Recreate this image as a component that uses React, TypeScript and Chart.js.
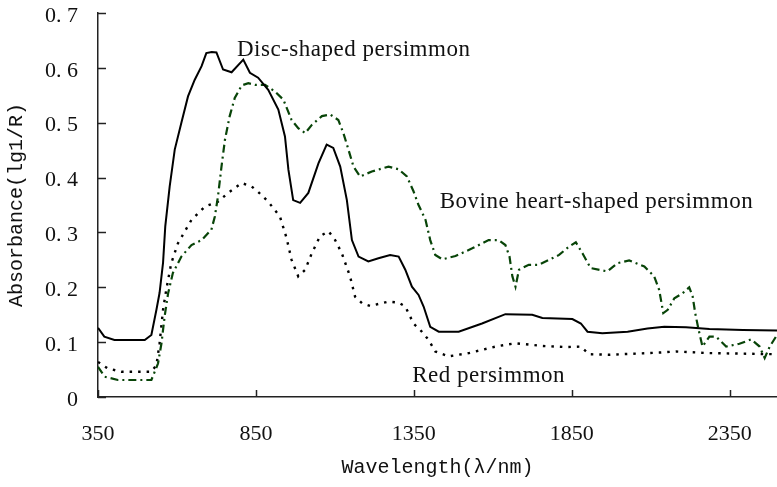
import React, { useEffect, useRef } from 'react';
import { Chart, registerables } from 'chart.js';

Chart.register(...registerables);

const W = 777;
const H = 487;

const xTickValues = [350, 850, 1350, 1850, 2350];
const yTickValues = [0, 0.1, 0.2, 0.3, 0.4, 0.5, 0.6, 0.7];

const seriesNames = ['Disc-shaped persimmon', 'Bovine heart-shaped persimmon', 'Red persimmon'];
const labelAnchorNm = [790, 1432, 1345];
const labelAnchorAbs = [0.621, 0.344, 0.027];

const discNm = [350, 370, 402, 450, 498, 519, 535, 545, 556, 563, 577, 593, 614, 635, 656, 678, 693, 710, 725, 746, 773, 810, 831, 857, 889, 921, 942, 953, 968, 990, 1016, 1048, 1074, 1095, 1117, 1138, 1154, 1175, 1206, 1238, 1275, 1302, 1323, 1344, 1365, 1381, 1402, 1429, 1492, 1566, 1640, 1725, 1757, 1852, 1879, 1900, 1947, 2027, 2090, 2143, 2212, 2286, 2392, 2500];
const discAbs = [0.126, 0.110, 0.104, 0.104, 0.104, 0.113, 0.159, 0.19, 0.245, 0.311, 0.384, 0.451, 0.5, 0.548, 0.578, 0.603, 0.627, 0.629, 0.628, 0.597, 0.592, 0.615, 0.591, 0.582, 0.56, 0.524, 0.475, 0.414, 0.359, 0.354, 0.372, 0.426, 0.46, 0.454, 0.42, 0.359, 0.286, 0.256, 0.247, 0.253, 0.259, 0.256, 0.232, 0.201, 0.186, 0.165, 0.128, 0.119, 0.119, 0.134, 0.151, 0.15, 0.144, 0.142, 0.134, 0.119, 0.116, 0.119, 0.125, 0.128, 0.127, 0.124, 0.122, 0.121];

const bovineNm = [350, 371, 413, 519, 540, 551, 561, 572, 587, 614, 646, 678, 709, 720, 730, 741, 752, 767, 783, 805, 826, 847, 879, 910, 937, 963, 984, 1006, 1027, 1059, 1085, 1111, 1127, 1143, 1159, 1180, 1217, 1270, 1302, 1328, 1349, 1365, 1387, 1402, 1418, 1440, 1482, 1535, 1587, 1619, 1640, 1653, 1662, 1672, 1683, 1714, 1746, 1778, 1810, 1841, 1863, 1884, 1910, 1963, 1995, 2032, 2080, 2111, 2127, 2140, 2154, 2175, 2201, 2222, 2233, 2241, 2252, 2264, 2286, 2307, 2339, 2381, 2418, 2445, 2461, 2477, 2500];
const bovineAbs = [0.055, 0.037, 0.031, 0.031, 0.061, 0.098, 0.147, 0.189, 0.226, 0.256, 0.277, 0.286, 0.305, 0.329, 0.366, 0.42, 0.469, 0.512, 0.545, 0.568, 0.572, 0.569, 0.569, 0.557, 0.542, 0.505, 0.49, 0.481, 0.496, 0.512, 0.515, 0.505, 0.481, 0.451, 0.42, 0.402, 0.411, 0.42, 0.415, 0.402, 0.375, 0.35, 0.323, 0.286, 0.259, 0.251, 0.257, 0.271, 0.286, 0.286, 0.277, 0.256, 0.22, 0.201, 0.232, 0.241, 0.241, 0.25, 0.259, 0.274, 0.282, 0.262, 0.235, 0.229, 0.244, 0.249, 0.238, 0.22, 0.195, 0.153, 0.159, 0.18, 0.189, 0.2, 0.183, 0.153, 0.122, 0.092, 0.11, 0.11, 0.092, 0.097, 0.105, 0.092, 0.071, 0.092, 0.113];

const redNm = [350, 381, 424, 519, 535, 545, 556, 566, 582, 603, 646, 688, 730, 762, 805, 836, 857, 889, 926, 947, 963, 984, 1006, 1027, 1053, 1080, 1101, 1122, 1148, 1164, 1186, 1212, 1270, 1302, 1323, 1349, 1371, 1397, 1418, 1460, 1524, 1609, 1672, 1757, 1831, 1879, 1905, 1968, 2127, 2180, 2286, 2500];
const redAbs = [0.064, 0.052, 0.046, 0.046, 0.058, 0.098, 0.159, 0.195, 0.244, 0.28, 0.323, 0.347, 0.356, 0.372, 0.39, 0.384, 0.374, 0.356, 0.329, 0.29, 0.25, 0.22, 0.232, 0.262, 0.293, 0.302, 0.286, 0.262, 0.22, 0.183, 0.171, 0.166, 0.174, 0.172, 0.165, 0.134, 0.122, 0.104, 0.083, 0.074, 0.08, 0.092, 0.098, 0.093, 0.091, 0.092, 0.078, 0.077, 0.081, 0.083, 0.08, 0.078];

const toPoints = (xs: number[], ys: number[]) => xs.map((x, i) => ({ x, y: ys[i] }));

const AXIS_COLOR = '#222';
const TEXT_COLOR = '#111';
const GREEN = 'rgb(8,68,8)';

const decorPlugin = {
  id: 'decor',
  afterDraw(chart: any) {
    const { ctx, chartArea, scales } = chart;
    const x = scales.x;
    const y = scales.y;
    ctx.save();
    ctx.strokeStyle = AXIS_COLOR;
    ctx.lineWidth = 1.5;
    yTickValues.forEach((v) => {
      const py = Math.round(y.getPixelForValue(v)) + 0.5;
      ctx.beginPath();
      ctx.moveTo(chartArea.left, py);
      ctx.lineTo(chartArea.left + 8, py);
      ctx.stroke();
    });
    xTickValues.forEach((v) => {
      const px = Math.round(x.getPixelForValue(v)) + 0.5;
      ctx.beginPath();
      ctx.moveTo(px, chartArea.bottom);
      ctx.lineTo(px, chartArea.bottom - 7);
      ctx.stroke();
    });
    ctx.fillStyle = TEXT_COLOR;
    ctx.font = '23px "Liberation Serif"';
    try { (ctx as any).letterSpacing = '0.5px'; } catch (e) { /* ignore */ }
    ctx.textAlign = 'left';
    ctx.textBaseline = 'alphabetic';
    seriesNames.forEach((name, i) => {
      ctx.fillText(name, x.getPixelForValue(labelAnchorNm[i]), y.getPixelForValue(labelAnchorAbs[i]));
    });
    ctx.restore();
  },
};

export default function App() {
  const ref = useRef<HTMLCanvasElement | null>(null);

  useEffect(() => {
    document.body.style.margin = '0';
    const canvas = ref.current;
    if (!canvas) return;
    const chart = new Chart(canvas, {
      type: 'line',
      data: {
        datasets: [
          {
            label: seriesNames[0],
            data: toPoints(discNm, discAbs),
            borderColor: '#000',
            borderWidth: 2,
            pointRadius: 0,
            tension: 0,
            fill: false,
          },
          {
            label: seriesNames[1],
            data: toPoints(bovineNm, bovineAbs),
            borderColor: GREEN,
            borderWidth: 2.2,
            borderDash: [8, 4, 2, 4],
            pointRadius: 0,
            tension: 0,
            fill: false,
          },
          {
            label: seriesNames[2],
            data: toPoints(redNm, redAbs),
            borderColor: '#000',
            borderWidth: 2.4,
            borderDash: [2.5, 6],
            pointRadius: 0,
            tension: 0,
            fill: false,
          },
        ],
      },
      options: {
        responsive: false,
        animation: false,
        devicePixelRatio: 1,
        layout: { padding: { top: 13, right: 0, left: 0, bottom: 0 } },
        plugins: {
          legend: { display: false },
          tooltip: { enabled: false },
        },
        scales: {
          x: {
            type: 'linear',
            min: 350,
            max: 2500,
            grid: { display: false, drawTicks: false },
            border: { display: true, color: AXIS_COLOR, width: 1.5 },
            afterBuildTicks: (scale: any) => {
              scale.ticks = xTickValues.map((v) => ({ value: v }));
            },
            afterFit: (scale: any) => {
              scale.height = 90;
              scale.paddingLeft = 0;
              scale.paddingRight = 0;
            },
            ticks: {
              color: TEXT_COLOR,
              font: { family: '"Liberation Serif"', size: 22 },
              padding: 24,
              maxRotation: 0,
              autoSkip: false,
              callback: (v: any) => String(v),
            },
            title: {
              display: true,
              text: 'Wavelength(λ/nm)',
              color: TEXT_COLOR,
              font: { family: '"Liberation Mono"', size: 20 },
              padding: { top: 0, bottom: 7 },
            },
          },
          y: {
            type: 'linear',
            min: 0,
            max: 0.7,
            grid: { display: false, drawTicks: false },
            border: { display: true, color: AXIS_COLOR, width: 1.5 },
            afterBuildTicks: (scale: any) => {
              scale.ticks = yTickValues.map((v) => ({ value: v }));
            },
            afterFit: (scale: any) => {
              scale.width = 98;
              scale.paddingTop = 0;
              scale.paddingBottom = 0;
            },
            ticks: {
              color: TEXT_COLOR,
              font: { family: '"Liberation Serif"', size: 22 },
              padding: 20,
              labelOffset: 3,
              callback: (v: any) => (Number(v) === 0 ? '0' : Number(v).toFixed(1).replace('.', '. ')),
            },
            title: {
              display: true,
              text: 'Absorbance(lg1/R)',
              color: TEXT_COLOR,
              font: { family: '"Liberation Mono"', size: 20 },
              padding: { top: 5, bottom: 0 },
            },
          },
        },
      },
      plugins: [decorPlugin],
    });
    return () => chart.destroy();
  }, []);

  return (
    <div style={{ width: W, height: H }}>
      <canvas ref={ref} width={W} height={H} style={{ display: 'block' }} />
    </div>
  );
}
